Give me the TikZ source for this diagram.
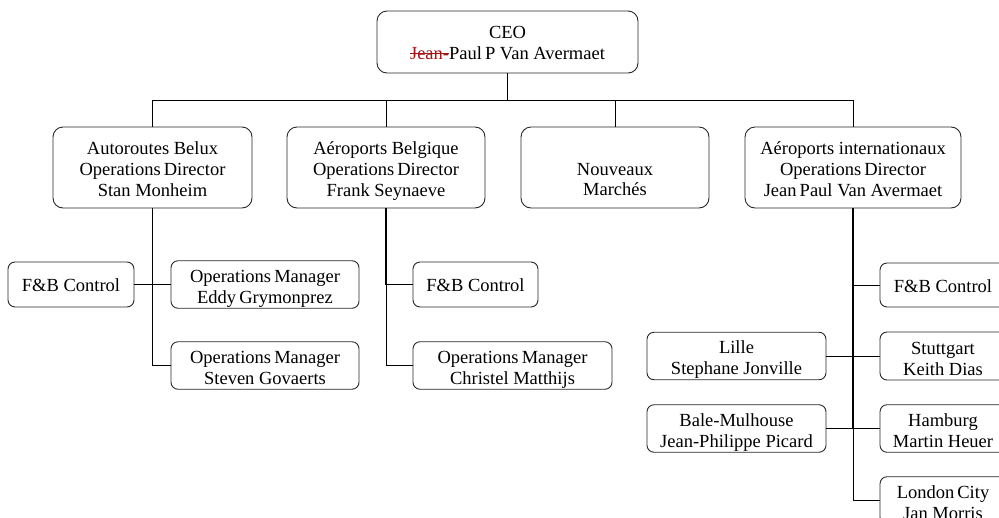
\documentclass[tikz,border=0pt]{standalone}
\usepackage{fontspec}
\setmainfont{Liberation Serif}
\definecolor{delred}{RGB}{165,20,20}
\definecolor{boxline}{RGB}{40,40,40}
\newsavebox\strkbox
\newcommand\strikeword[1]{\sbox\strkbox{#1}\rlap{\rule[0.27em]{\wd\strkbox}{0.06em}}\usebox\strkbox}
% top and bottom struts that fix the height of a box text
\newcommand\tS[1]{\rule{0pt}{#1}}
\newcommand\bS[1]{\rule[-#1]{0pt}{#1}}
\begin{document}
\begin{tikzpicture}[x=1pt,y=-1pt,
  orgbox/.style={draw=boxline, line width=0.9pt, align=center, inner sep=0pt,
    font=\fontsize{18.5}{21}\selectfont},
  bigbox/.style={orgbox, rounded corners=10pt},
  smallbox/.style={orgbox, rounded corners=7pt},
  link/.style={line width=0.9pt, draw=black},
  heavylink/.style={line width=1.7pt, draw=black}]
\useasboundingbox (0,0) rectangle (999,517);
\clip (0,0) rectangle (999,517);

% top level
\node[bigbox, minimum width=261pt, minimum height=62pt] (ceo) at (507.5,42)
  {\tS{18pt}CEO\\\textcolor{delred}{\strikeword{Jean-}}Paul\,P Van Avermaet\bS{5pt}};

% level 2
\node[bigbox, minimum width=199pt, minimum height=81pt] (auto) at (152.5,167.5)
  {\tS{20pt}Autoroutes Belux\\Operations\,Director\\Stan Monheim\bS{5pt}};
\node[bigbox, minimum width=198pt, minimum height=81pt] (belg) at (386,167.5)
  {\tS{20pt}A\'eroports Belgique\\Operations\,Director\\Frank Seynaeve\bS{5pt}};
\node[bigbox, minimum width=188pt, minimum height=81pt] (nouv) at (615,167.5)
  {\tS{20pt}\\Nouveaux\\[-1pt]March\'es\bS{5pt}};
\node[bigbox, minimum width=216pt, minimum height=81pt] (intl) at (853,167.5)
  {\tS{20pt}A\'eroports internationaux\\Operations\,Director\\Jean\,Paul Van Avermaet\bS{5pt}};

% Autoroutes branch
\node[smallbox, minimum width=126pt, minimum height=45pt] (fbA) at (71,284.5)
  {\tS{19pt}F\&B Control\bS{5pt}};
\node[smallbox, minimum width=188pt, minimum height=45pt] (opsE) at (265,284.5)
  {\tS{21.5pt}Operations\,Manager\\Eddy\,Grymonprez\bS{5pt}};
\node[smallbox, minimum width=188pt, minimum height=45pt] (opsS) at (265,365.5)
  {\tS{21.5pt}Operations\,Manager\\Steven Govaerts\bS{5pt}};

% Belgique branch
\node[smallbox, minimum width=125pt, minimum height=45pt] (fbB) at (475.5,284.5)
  {\tS{19pt}F\&B Control\bS{5pt}};
\node[smallbox, minimum width=199pt, minimum height=45pt] (opsC) at (512.5,365.5)
  {\tS{21.5pt}Operations\,Manager\\Christel Matthijs\bS{5pt}};

% International branch
\node[smallbox, minimum width=126pt, minimum height=44pt] (fbI) at (943,285)
  {\tS{19pt}F\&B Control\bS{5pt}};
\node[smallbox, minimum width=126pt, minimum height=44pt] (stutt) at (943,356)
  {\tS{22pt}Stuttgart\\Keith Dias\bS{5pt}};
\node[smallbox, minimum width=126pt, minimum height=45pt] (hamb) at (943,428.5)
  {\tS{21.5pt}Hamburg\\Martin Heuer\bS{5pt}};
\node[smallbox, minimum width=126pt, minimum height=45pt] (lond) at (943,500.5)
  {\tS{21.5pt}London\,City\\Jan Morris\bS{5pt}};
\node[smallbox, minimum width=179pt, minimum height=46pt] (lille) at (736.5,356)
  {\tS{21.5pt}Lille\\Stephane Jonville\bS{5pt}};
\node[smallbox, minimum width=179pt, minimum height=45pt] (bale) at (736.5,428.5)
  {\tS{21.5pt}Bale-Mulhouse\\Jean-Philippe Picard\bS{5pt}};

% bus
\coordinate (busY) at (0,100);
\draw[link] (ceo.south) -- (ceo.south |- busY);
\draw[link] (auto.north) -- (auto.north |- busY) -- (intl.north |- busY) -- (intl.north);
\draw[link] (belg.north) -- (belg.north |- busY);
\draw[link] (nouv.north) -- (nouv.north |- busY);

% Autoroutes connectors
\draw[link] (auto.south) |- (opsS.west);
\draw[link] (fbA.east) -- (opsE.west);

% Belgique connectors
\draw[heavylink] (belg.south) -- (belg.south |- fbB.west);
\draw[link] (belg.south |- fbB.west) |- (opsC.west);
\draw[link] (belg.south |- fbB.west) -- (fbB.west);

% International connectors
\draw[heavylink] (intl.south) -- (intl.south |- hamb.west);
\draw[link] (intl.south |- hamb.west) |- (lond.west);
\draw[link] (intl.south |- fbI.west) -- (fbI.west);
\draw[link] (lille.east) -- (stutt.west);
\draw[link] (bale.east) -- (hamb.west);
\end{tikzpicture}
\end{document}
